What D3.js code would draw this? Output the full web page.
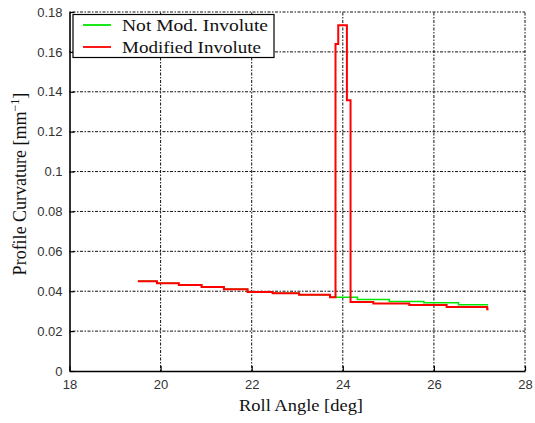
<!DOCTYPE html>
<html>
<head>
<meta charset="utf-8">
<script src="https://cdn.jsdelivr.net/npm/d3@7"></script>
<style>
  html, body { margin: 0; padding: 0; background: #fff; }
  svg { display: block; }
</style>
</head>
<body>
<svg id="chart" width="535" height="423"></svg>
<script>
// Roll angle (deg) where each curvature step begins
const modAngle = [19.50, 19.92, 20.40, 20.90, 21.39, 21.91, 22.46, 23.04, 23.72,
                  23.84, 23.90, 24.09, 24.17, 24.67, 25.46, 26.28, 27.17, 27.20];
const modCurv  = [0.0450, 0.0440, 0.0431, 0.0421, 0.0410, 0.0396, 0.0390, 0.0382, 0.0370,
                  0.1640, 0.1734, 0.1358, 0.0346, 0.0339, 0.0331, 0.0321, 0.0310, 0.0310];

const invAngle = [19.50, 19.92, 20.40, 20.90, 21.39, 21.91, 22.46, 23.04, 23.72,
                  24.32, 25.02, 25.78, 26.54, 27.19];
const invCurv  = [0.0450, 0.0440, 0.0431, 0.0421, 0.0410, 0.0396, 0.0390, 0.0382, 0.0370,
                  0.0359, 0.0349, 0.0342, 0.0332, 0.0332];

const xTicks = [18, 20, 22, 24, 26, 28];
const yTicks = [0, 0.02, 0.04, 0.06, 0.08, 0.1, 0.12, 0.14, 0.16, 0.18];
const seriesNames = ["Not Mod. Involute", "Modified Involute"];
const seriesColors = ["#00e600", "#ff0000"];

const svg = d3.select("#chart");
const L = 69.5, R = 525, T = 12, B = 371;
const serif = "Liberation Serif, Times New Roman, serif";

const x = d3.scaleLinear().domain([18, 28]).range([L, R]);
const y = d3.scaleLinear().domain([0, 0.18]).range([B, T]);

svg.append("rect").attr("width", 535).attr("height", 423).attr("fill", "#fff");

// dotted grid
const grid = svg.append("g").attr("stroke", "#111").attr("stroke-width", 1)
  .attr("stroke-dasharray", "1.5,1.5,3,1.5");
grid.selectAll("line.gx").data(xTicks.slice(1)).join("line")
  .attr("x1", d => x(d)).attr("x2", d => x(d)).attr("y1", B).attr("y2", T);
grid.selectAll("line.gy").data(yTicks.slice(1)).join("line")
  .attr("y1", d => y(d)).attr("y2", d => y(d)).attr("x1", L).attr("x2", R);

const fmt = d => d === 0 ? "0" : String(+d.toFixed(2));

// axes with inward ticks
const xAxis = d3.axisBottom(x).tickValues(xTicks).tickSizeInner(-5).tickSizeOuter(0)
  .tickPadding(9).tickFormat(d3.format("d"));
const yAxis = d3.axisLeft(y).tickValues(yTicks).tickSizeInner(-5).tickSizeOuter(0)
  .tickPadding(7).tickFormat(fmt);

const gx = svg.append("g").attr("transform", `translate(0,${B})`).call(xAxis);
const gy = svg.append("g").attr("transform", `translate(${L},0)`).call(yAxis);
[gx, gy].forEach(g => {
  g.select(".domain").attr("stroke", "#000").attr("stroke-width", 1.6);
  g.selectAll(".tick line").attr("stroke", "#000").attr("stroke-width", 1.2);
  g.selectAll(".tick text").attr("font-family", "Liberation Sans, Arial, sans-serif")
    .attr("font-size", 13).attr("fill", "#333");
});

// curves
const line = d3.line().curve(d3.curveStepAfter).x(d => x(d[0])).y(d => y(d[1]));
const invData = invAngle.map((a, i) => [a, invCurv[i]]);
const modData = modAngle.map((a, i) => [a, modCurv[i]]);

svg.append("path").datum(invData).attr("d", line)
  .attr("fill", "none").attr("stroke", seriesColors[0]).attr("stroke-width", 1.5);
svg.append("path").datum(modData).attr("d", line)
  .attr("fill", "none").attr("stroke", seriesColors[1]).attr("stroke-width", 2);

// legend
const lg = svg.append("g");
lg.append("rect").attr("x", 73).attr("y", 14.5).attr("width", 201).attr("height", 43)
  .attr("fill", "#fff").attr("stroke", "#000").attr("stroke-width", 1.2);
seriesNames.forEach((name, i) => {
  const yy = 25 + i * 22;
  lg.append("line").attr("x1", 83).attr("x2", 111).attr("y1", yy).attr("y2", yy)
    .attr("stroke", seriesColors[i]).attr("stroke-width", 1.8);
  lg.append("text").attr("x", 122).attr("y", yy + 6)
    .attr("font-family", serif).attr("font-size", 17)
    .attr("textLength", i === 0 ? 146 : 139).attr("lengthAdjust", "spacingAndGlyphs")
    .attr("fill", "#111").text(name);
});

// axis titles
svg.append("text").attr("x", 301).attr("y", 411).attr("text-anchor", "middle")
  .attr("font-family", serif).attr("font-size", 17)
  .attr("textLength", 124).attr("lengthAdjust", "spacingAndGlyphs")
  .attr("fill", "#111").text("Roll Angle [deg]");

const yl = svg.append("text").attr("transform", "translate(26,184) rotate(-90)")
  .attr("text-anchor", "middle")
  .attr("font-family", serif).attr("font-size", 18)
  .attr("fill", "#111");
yl.append("tspan").text("Profile Curvature [mm");
yl.append("tspan").attr("font-size", 12).attr("dy", -7).text("−1");
yl.append("tspan").attr("dy", 7).text("]");
</script>
</body>
</html>
